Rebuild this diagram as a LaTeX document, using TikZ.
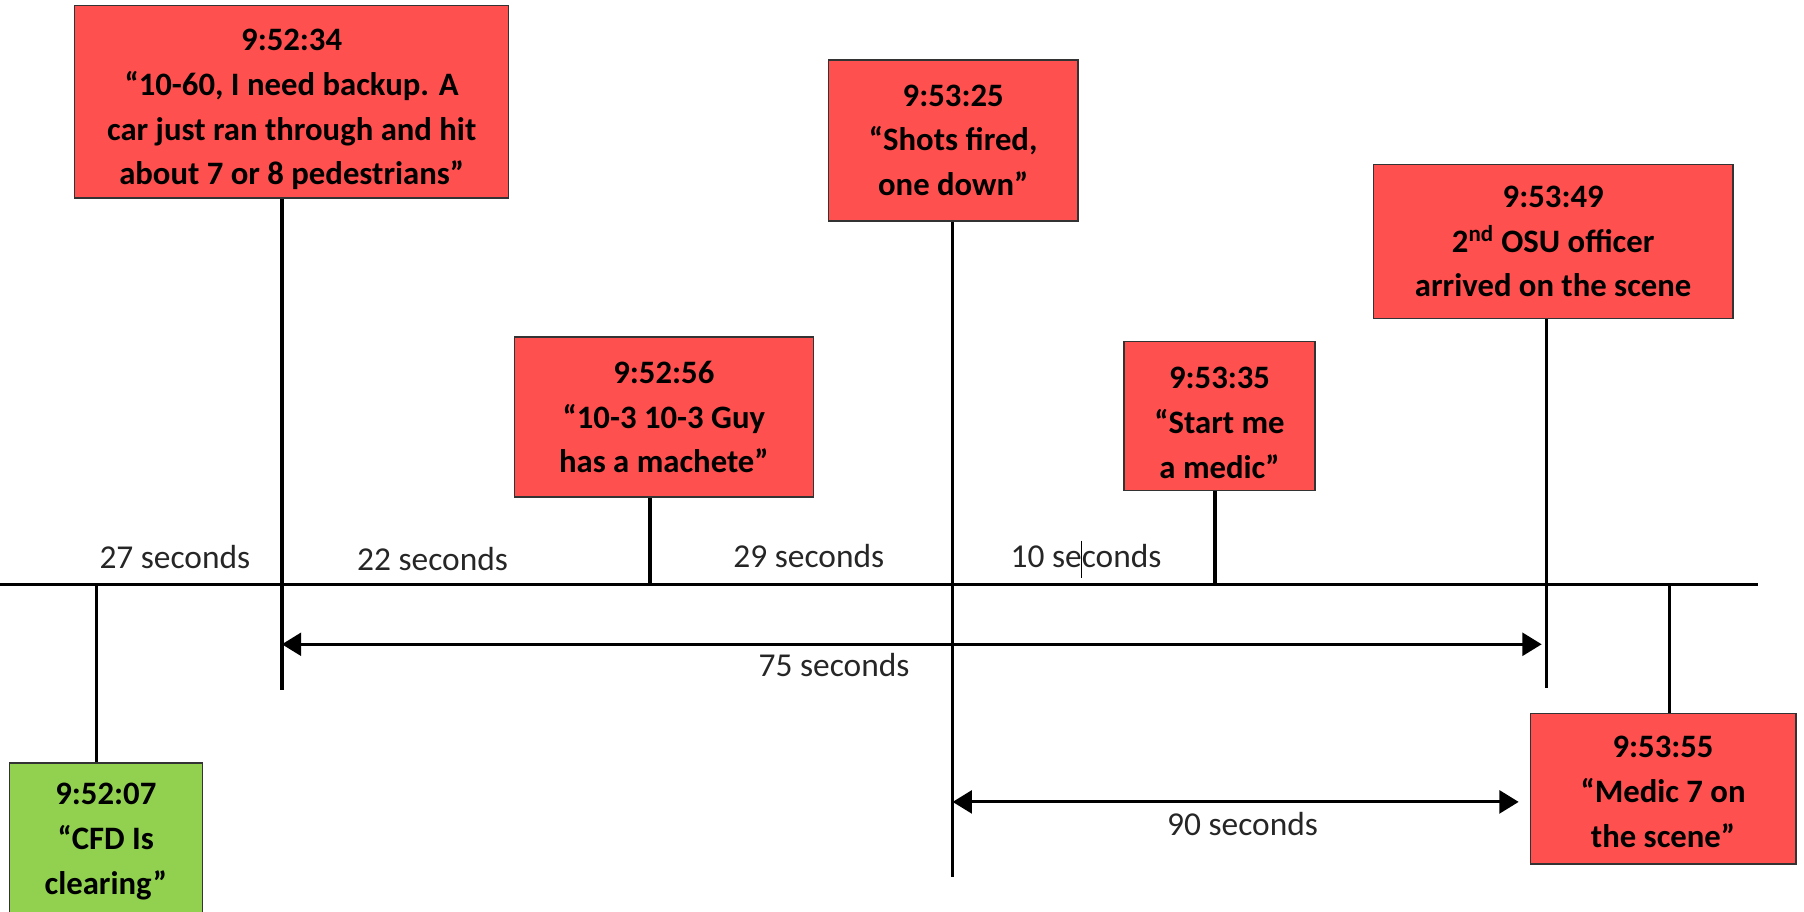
\documentclass[tikz,border=0pt]{standalone}
\usepackage{fontspec}
\setmainfont{Carlito}
\usetikzlibrary{arrows.meta}
\definecolor{evred}{RGB}{255,80,80}
\definecolor{evgreen}{RGB}{146,208,80}

\begin{document}
\begin{tikzpicture}[x = 0.023cm, y = -0.023cm,
    event/.style = {draw = black!80, line width = 0.8pt, fill = evred, align = center,
      inner sep = 0pt, font = \bfseries\fontsize{18.6}{25.4}\selectfont},
    firstbox/.style = {event, fill = evgreen},
    stem/.style = {line width = 1.9pt},
    gaplabel/.style = {font = \fontsize{19}{22}\selectfont, text = black!85},
    spanarrow/.style = {line width = 1.8pt,
      {Triangle[length = 11pt, width = 13pt]}-{Triangle[length = 11pt, width = 13pt]}}]
      \useasboundingbox (0,0) rectangle (1568,792);
      % place nodes
      \node (a) [event, minimum width = 8.67cm, minimum height = 3.84cm] at (253.5,88.5)
        {\rule{0pt}{21pt}9:52:34\\``10-60, I need backup. A\\car just ran through and hit\\about 7 or 8 pedestrians''};
      \node (b) [event, minimum width = 4.99cm, minimum height = 3.22cm] at (828.5,122)
        {9:53:25\\``Shots fired,\\one down''};
      \node (c) [event, minimum width = 7.18cm, minimum height = 3.08cm] at (1350,210)
        {9:53:49\\2\textsuperscript{nd} OSU officer\\arrived on the scene};
      \node (d) [event, minimum width = 5.98cm, minimum height = 3.20cm] at (577,362.5)
        {9:52:56\\``10-3 10-3 Guy\\has a machete''};
      \node (e) [event, minimum width = 3.82cm, minimum height = 2.97cm] at (1060,361.5)
        {\rule{0pt}{20pt}9:53:35\\``Start me\\a medic''};
      \node (f) [firstbox, minimum width = 3.86cm, minimum height = 3.15cm] at (92,731.5)
        {9:52:07\\``CFD Is\\clearing''};
      \node (g) [event, minimum width = 5.31cm, minimum height = 3.01cm] at (1445.5,685.5)
        {\rule{0pt}{16pt}9:53:55\\``Medic 7 on\\the scene''};

      % timeline points
      \coordinate (tl0) at (0,508);
      \coordinate (tl8) at (1528,508);
      \coordinate (t1) at (84,508);
      \coordinate (t2) at (245,508);
      \coordinate (t3) at (565,508);
      \coordinate (t4) at (828,508);
      \coordinate (t5) at (1056,508);
      \coordinate (t6) at (1344,508);
      \coordinate (t7) at (1451,508);
      \coordinate (e2) at (245,600);
      \coordinate (e4) at (828,762);
      \coordinate (e6) at (1344,598);
      \coordinate (s75a) at (245,560);
      \coordinate (s75b) at (1340,560);
      \coordinate (s90a) at (828,697);
      \coordinate (s90b) at (1320,697);

      \node (g27) [gaplabel] at (152,484) {27 seconds};
      \node (g22) [gaplabel] at (376,486) {22 seconds};
      \node (g29) [gaplabel] at (703,483) {29 seconds};
      \node (g10) [gaplabel] at (944,483) {10 seconds};
      \node (g75) [gaplabel] at (725,578) {75 seconds};
      \node (g90) [gaplabel] at (1080,716) {90 seconds};

      % draw edges
      \draw [line width = 2.2pt] (tl0) -- (tl8);
      \draw [stem] (t1) -- (t1 |- f.north);
      \draw [stem] (t2 |- a.south) -- (e2);
      \draw [stem] (t3 |- d.south) -- (t3);
      \draw [stem] (t4 |- b.south) -- (e4);
      \draw [stem] (t5 |- e.south) -- (t5);
      \draw [stem] (t6 |- c.south) -- (e6);
      \draw [stem] (t7) -- (t7 |- g.north);

      \draw [spanarrow] (s75a) -- (s75b);
      \draw [spanarrow] (s90a) -- (s90b);

      \draw [line width = 0.5pt] (940,470) -- (940,502);
    \end{tikzpicture}
\end{document}
